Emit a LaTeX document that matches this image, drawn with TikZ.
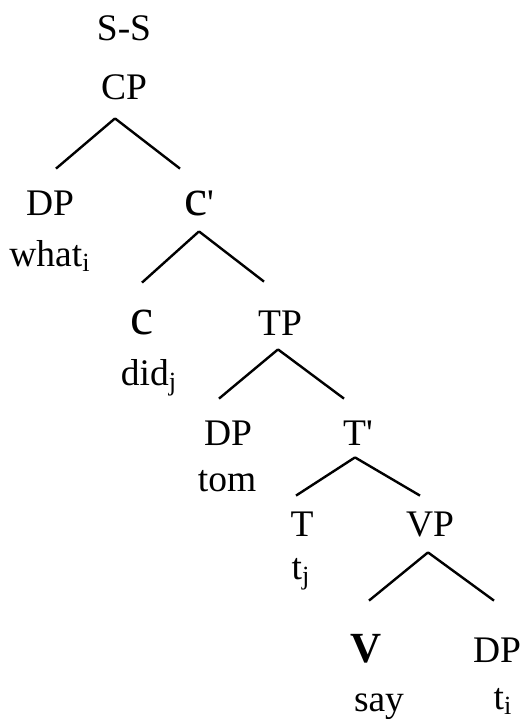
\documentclass[tikz,border=0pt]{standalone}
\usepackage{fontspec}
\setmainfont{Liberation Serif}
\newcommand{\sybigc}{{\fontsize{26pt}{28pt}\selectfont c}}
\newcommand{\syprime}{\textquotesingle}
\newcommand{\syverb}{{\bfseries\fontsize{21.5pt}{24pt}\selectfont V}}
\tikzset{
  sycat/.style={inner sep=0pt, anchor=base, text height=23pt, text depth=8pt},
  syword/.style={inner sep=0pt, anchor=base},
  sybranch/.style={line width=1.2pt}
}

\begin{document}
\begin{tikzpicture}[x=0.5pt, y=-0.5pt, font=\fontsize{18.75pt}{22pt}\selectfont]
  \useasboundingbox (0,0) rectangle (523,719);
  \node[syword] (ss) at (124,40) {S-S};
  \node[sycat, text depth=9.5pt] (cp) at (124,99) {CP};
  \node[sycat] (dpwh) at (50,215) {DP};
  \node[syword] (what) at (50,266) {what\textsubscript{i}};
  \node[sycat] (cbar) at (199,215) {\sybigc\syprime};
  \node[sycat, text height=25.5pt] (c) at (142,334) {\sybigc};
  \node[syword] (did) at (149,385) {did\textsubscript{j}};
  \node[sycat, text height=26.5pt, text depth=7pt] (tp) at (280,335) {TP};
  \node[sycat] (dptom) at (228,445) {DP};
  \node[syword] (tom) at (227,491) {tom};
  \node[sycat, text depth=6pt] (tbar) at (358,445) {T\syprime};
  \node[sycat, text height=20pt] (t) at (302,536) {T};
  \node[syword] (tj) at (301,579) {t\textsubscript{j}};
  \node[sycat, text height=20pt] (vp) at (430,536) {VP};
  \node[sycat, text height=30.5pt] (v) at (366,662) {\syverb};
  \node[syword] (say) at (379,711) {say};
  \node[sycat, text height=30.5pt] (dpt) at (497,662) {DP};
  \node[syword] (ti) at (503,709) {t\textsubscript{i}};
  % branches
  \draw[sybranch] ([xshift=-4.5pt]cp.south) -- ([xshift=3pt]dpwh.north);
  \draw[sybranch] ([xshift=-4.5pt]cp.south) -- ([xshift=-9.5pt]cbar.north);
  \draw[sybranch] (cbar.south) -- (c.north);
  \draw[sybranch] (cbar.south) -- ([xshift=-8pt]tp.north);
  \draw[sybranch] ([xshift=-1pt]tp.south) -- ([xshift=-4.5pt]dptom.north);
  \draw[sybranch] ([xshift=-1pt]tp.south) -- ([xshift=-7pt]tbar.north);
  \draw[sybranch] ([xshift=-1.5pt]tbar.south) -- ([xshift=-3pt]t.north);
  \draw[sybranch] ([xshift=-1.5pt]tbar.south) -- ([xshift=-5pt]vp.north);
  \draw[sybranch] ([xshift=-1pt]vp.south) -- ([xshift=1.5pt]v.north);
  \draw[sybranch] ([xshift=-1pt]vp.south) -- ([xshift=-1.5pt]dpt.north);
\end{tikzpicture}
\end{document}
